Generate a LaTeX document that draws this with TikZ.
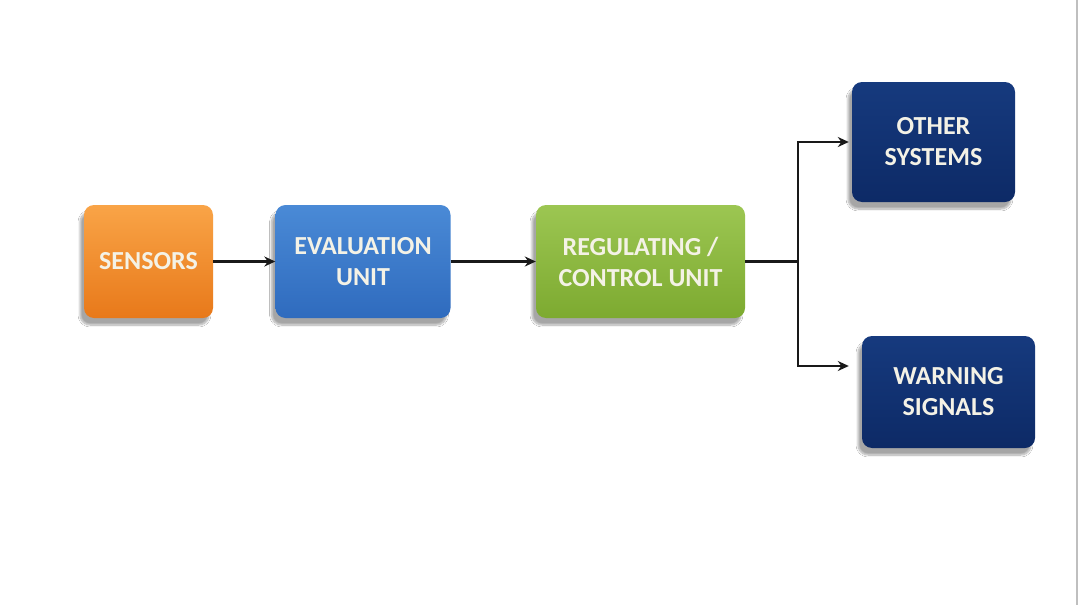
\documentclass[tikz,border=0pt]{standalone}
\usepackage{fontspec}
\setmainfont{Carlito}
\usetikzlibrary{arrows.meta,shadows.blur}
\definecolor{orangeT}{HTML}{F9A447}
\definecolor{orangeB}{HTML}{E8791A}
\definecolor{blueT}{HTML}{4A8AD6}
\definecolor{blueB}{HTML}{2F6BBE}
\definecolor{greenT}{HTML}{9CC652}
\definecolor{greenB}{HTML}{7DAA30}
\definecolor{navyT}{HTML}{163A7E}
\definecolor{navyB}{HTML}{0D2A66}
\definecolor{txt}{HTML}{F4F2E6}
\tikzset{
  boxbase/.style={rounded corners=10pt, inner sep=0pt, align=center,
    font=\fontsize{26}{31}\selectfont\bfseries, text=txt,
    blur shadow={shadow blur steps=10, shadow xshift=-4pt, shadow yshift=-7pt, shadow opacity=35}},
  orangebox/.style={boxbase, top color=orangeT, bottom color=orangeB},
  bluebox/.style={boxbase, top color=blueT, bottom color=blueB},
  greenbox/.style={boxbase, top color=greenT, bottom color=greenB},
  navybox/.style={boxbase, top color=navyT, bottom color=navyB},
  conn/.style={line width=2.4pt, black!90, -{Stealth[length=11pt,width=10pt]}},
  plain/.style={line width=2.4pt, black!90}
}
\begin{document}
\begin{tikzpicture}[x=1pt,y=-1pt]
\useasboundingbox (0,0) rectangle (1080,605);
\fill[white] (0,0) rectangle (1080,605);
\draw[black!25, line width=1.5pt] (1077,0) -- (1077,605);
\node[orangebox, minimum width=129pt, minimum height=113pt] (sen) at (148.5,261.5) {SENSORS};
\node[bluebox, minimum width=175pt, minimum height=113pt] (eval) at (363,261.5) {EVALUATION\\UNIT};
\node[greenbox, minimum width=209pt, minimum height=113pt] (reg) at (640.5,261.5) {REGULATING /\\CONTROL UNIT};
\node[navybox, minimum width=163pt, minimum height=120pt] (oth) at (933.5,142) {OTHER\\SYSTEMS};
\node[navybox, minimum width=173pt, minimum height=112pt] (warn) at (948.5,392) {WARNING\\SIGNALS};
\coordinate (split) at (798,261.5);
\draw[conn] (sen.east) -- (eval.west);
\draw[conn] (eval.east) -- (reg.west);
\draw[plain] (reg.east) -- (split);
\draw[conn] (split) |- ([xshift=-3pt]oth.west);
\draw[conn] (split) |- ([xshift=-13pt,yshift=26pt]warn.west);
\end{tikzpicture}
\end{document}
